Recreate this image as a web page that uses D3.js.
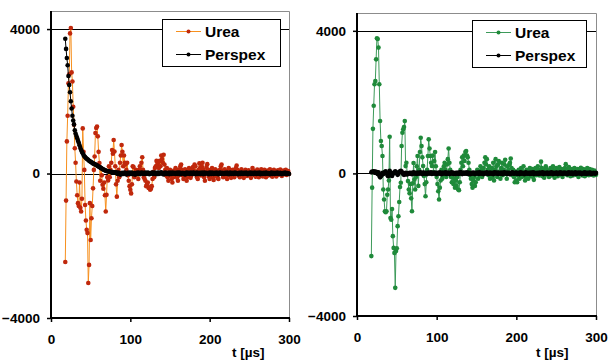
<!DOCTYPE html>
<html>
<head>
<meta charset="utf-8">
<script src="https://cdn.jsdelivr.net/npm/d3@7"></script>
<style>
  body { margin: 0; background: #fff; }
  svg { display: block; }
  text { font-family: "Liberation Sans", Arial, sans-serif; font-weight: bold; fill: #000; }
</style>
</head>
<body>
<svg id="chart" width="613" height="362"></svg>
<script>
// sampling: one point per microsecond, first sample at t = 18 µs
const sampleStart = 18;
const xTicks = [0, 100, 200, 300];
const yTicks = [-4000, 0, 4000];
const seriesNames = ['Urea', 'Perspex'];

// left panel
const ureaLeft = [
  -2450, -750, 890, 1600, 2500, 2750, 3880, 4030, 2800, 2550,
  1850, 1350, 700, 300, -220, -600, -820, -900, -250, -950,
  -1050, -700, 1250, 600, 100, -870, -1300, -1560, -1650, -3030,
  -2530, -820, -1840, -1240, -900, -410, 100, 470, 1120, 1260,
  1300, 1030, 600, 290, -200, 150, -50, -310, -420, -250,
  -600, -1050, -590, -100, -190, 200, -100, 100, 300, 650,
  550, 930, 610, 200, -300, -640, -200, 100, -100, 300,
  500, 790, 600, 200, 500, 300, 250, 100, 300, -50,
  -200, -350, -450, -550, -300, 200, 180, -100, -50, 100,
  50, -20, -150, 100, 200, 100, 300, 450, 100, -100,
  -150, -200, -350, -300, -250, -400, -380, -450, -420, -350,
  -150, 50, -100, 150, 200, 350, 250, 300, 150, 350,
  200, 500, 400, 300, 520, 250, 100, -50, 150, -100,
  -200, -50, 100, 50, -150, -250, -100, 80, -50, 150,
  100, -120, -200, -50, 120, 200, 250, 100, -50, -150,
  50, 120, -80, -200, -100, 60, 150, 0, -120, -50,
  100, 180, 80, 250, 200, 50, -100, -150, 100, 280,
  150, -50, 200, 300, 120, -100, -200, 50, 180, 260,
  100, -80, -150, -50, 100, 150, -100, -180, 50, 120,
  -60, 80, -120, -150, 0, 100, 200, 250, 80, -100,
  -50, 120, 60, -80, -150, 50, 150, 100, -50, -120,
  30, 100, -60, -100, 80, 150, 220, 100, -50, 60,
  -100, -40, 120, 50, -80, -120, 20, 100, 60, -70,
  -30, 90, 40, -60, -120, 30, 150, 80, -40, 60,
  -90, 20, 110, 50, -100, -60, 40, 120, 30, -80,
  60, 100, -20, -100, 30, 80, -50, 70, 120, 20,
  -60, -90, 40, 100, 60, -40, -80, 30, 90, -30,
  50, 110, 20, -70, 40, 80, -20, 60, 100, -40,
  30, 70, -10
];
const perspexLeft = [
  3730, 3450, 3200, 3000, 2700, 2450, 2250, 2000, 1800, 1600,
  1470, 1360, 1200, 1110, 1040, 980, 910, 850, 780, 710,
  650, 600, 560, 510, 480, 455, 430, 410, 395, 375,
  355, 340, 325, 310, 295, 280, 270, 260, 250, 235,
  225, 210, 195, 180, 170, 155, 140, 125, 110, 100,
  90, 80, 72, 66, 60, 55, 50, 46, 42, 40,
  38, 36, 30, 20, 35, 10, -15, 25, 5, -20,
  -30, 10, 20, -10, 15, 30, 0, -25, 10, 20,
  -5, 25, -15, 10, 30, -20, 5, 15, -30, 0,
  20, -10, 25, 10, -20, 15, 30, -5, 20, -15,
  10, 25, -10, 5, 30, 15, -20, 10, -5, 20,
  25, -15, 10, 30, 0, -20, 15, 25, -10, 5,
  20, 35, -5, 10, -25, 15, 30, 5, -15, 20,
  10, -20, 25, 5, -10, 30, 15, -5, 20, -15,
  5, 25, -10, 15, 30, -20, 10, 0, 20, -5,
  15, -25, 10, 30, -5, 20, 5, -15, 25, 10,
  -10, 20, 30, 0, -20, 15, 25, -10, 5, 20,
  -15, 10, 30, 5, -20, 25, 10, -5, 20, 0,
  15, -20, 25, 10, -10, 30, 5, -15, 20, 10,
  -5, 25, 0, -20, 15, 30, 10, -10, 20, 5,
  -15, 20, 10, -5, 25, 0, -20, 15, 30, -10,
  5, 20, -15, 10, 25, -5, 15, 0, -20, 20,
  10, -10, 25, 5, -15, 20, 10, -5, 30, 0,
  -20, 15, 5, 25, -10, 10, 20, -15, 5, 25,
  0, -15, 20, 10, -5, 25, -20, 10, 15, -10,
  20, 5, -15, 25, 10, -5, 15, 0, -20, 10,
  25, -10, 5, 20, -15, 10, 0, 25, -5, 15,
  -10, 20, 5, -20, 15, 10, -5, 25, 0, -15,
  10, 5, -10
];

// right panel
const ureaRight = [
  -2320, -400, 1250, 1900, 2500, 2590, 3200, 3790, 3770, 3530,
  2500, 1470, 910, 770, 490, -450, -730, -1060, -1090, -1060,
  -600, -450, -200, 1030, -1250, -1300, -1000, -1760, -2090, -2230,
  -3210, -2180, -2100, -1480, -1200, -800, -380, -260, 770, 1140,
  1240, 1300, 1470, 205, 300, 0, -215, -450, -560, -300,
  -700, -1060, -280, 290, -170, -450, -100, 200, 490, -350,
  100, 600, 1000, 770, 450, 210, -70, -300, -640, -250,
  100, 490, 955, 700, 490, 300, 210, 500, 30, 350,
  600, 200, -100, -300, -500, -730, -400, -200, 100, -150,
  -50, 200, 300, 100, -100, 250, 400, 700, 300, 100,
  -100, -250, -50, -300, -150, -400, -200, -350, -100, -450,
  -470, -250, 100, 300, 450, 200, 500, 350, 600, 630,
  500, 450, 300, 100, -50, -150, -300, -400, -200, -100,
  -350, -250, 0, 100, -150, 50, -50, 200, 100, -100,
  50, 150, 300, 450, 250, 400, 100, -50, 200, -150,
  50, 150, -100, 300, -200, 100, 400, 200, -100, 250,
  350, 50, -150, 150, 300, -50, 100, 250, 380, 0,
  -150, 200, 100, 250, 300, 420, 150, -50, 100, -100,
  -250, 50, -200, -250, -50, 100, -150, 0, 150, -100,
  50, 200, -50, -200, -100, 100, 50, -150, 80, 150,
  -80, 20, 120, -100, -180, 60, 150, -50, 80, 200,
  100, -60, 50, 330, 150, -80, 100, -120, 60, 200,
  120, -40, 80, -100, 50, 150, -60, 100, 200, -50,
  -120, 80, 150, 30, -80, 100, 180, -40, 60, 120,
  -100, -20, 100, 150, 260, 80, -50, 100, 180, 40,
  -80, 60, 120, -60, 30, 150, 100, -40, 80, 120,
  -100, 50, 90, 160, 40, -60, 120, 80, -80, 20,
  100, 150, 40, -50, 120, 60, -30, 100, 40, -60,
  80, 20, -40
];
const perspexRight = [
  30, 50, 40, 60, 20, 50, 10, 40, -20, 30,
  -60, -110, -80, -30, 20, -20, 10, 40, 60, 10,
  -40, -80, 20, 70, 30, -50, -70, -20, 10, 30,
  60, 30, 0, -40, -10, 40, 60, 70, 50, 20,
  -20, -40, -10, 20, -30, 10, -20, 0, 20, -10,
  15, -25, 10, 30, -5, 20, 5, -15, 25, 10,
  -10, 20, 30, 0, -20, 15, 25, -10, 5, 20,
  -20, 10, 25, -5, 15, 30, -15, 5, 20, -10,
  25, 0, -20, 15, 10, -10, 30, 5, -25, 15,
  20, -5, 10, 30, -15, 0, 25, 10, -20, 15,
  5, 30, -10, 20, 0, -25, 15, 10, -5, 25,
  -15, 20, 35, 5, -20, 10, 25, -10, 15, 0,
  30, -15, 10, 20, -25, 5, 15, -10, 25, 10,
  -20, 15, 0, 25, 10, -15, 30, 5, -10, 20,
  10, -25, 15, 20, -5, 30, 0, -15, 10, 25,
  -10, 5, 20, -20, 15, 30, -5, 10, 25, -15,
  20, 0, -10, 25, 10, -20, 15, 30, -5, 5,
  25, -15, 10, 20, -25, 0, 15, 30, -10, 10,
  -5, 20, 25, -15, 5, 10, -20, 30, 15, -10,
  20, 5, -25, 15, 30, 0, -10, 20, 10, -15,
  25, -5, 10, 30, -20, 15, 5, -10, 20, 0,
  -15, 25, 10, -5, 20, 30, -20, 5, 15, -10,
  10, 25, -15, 0, 20, -5, 30, 10, -20, 15,
  5, -10, 25, 15, -20, 10, 0, 30, -5, 20,
  -15, 10, 25, -5, 15, 0, -20, 20, 30, 5,
  -10, 15, 25, -20, 5, 10, 30, -15, 0, 20,
  15, -5, 25, 10, -20, 5, 20, -10, 30, 0,
  -15, 20, 10, -5, 25, 15, -20, 10, 0, 20,
  5, -10, 15
];

const svg = d3.select('#chart');

function drawPanel(cfg) {
  const x = d3.scaleLinear().domain([0, 300]).range([cfg.left, cfg.right]);
  const y = d3.scaleLinear().domain([-4000, 4500]).range([cfg.bottom, cfg.top]);
  const g = svg.append('g');

  // gridlines at the major ticks (except the axis itself)
  g.selectAll('line.grid')
    .data(yTicks.filter(v => v > -4000))
    .join('line')
      .attr('x1', cfg.left).attr('x2', cfg.right)
      .attr('y1', d => Math.round(y(d)) + 0.5).attr('y2', d => Math.round(y(d)) + 0.5)
      .attr('stroke', '#000').attr('stroke-width', 1);

  // grey frame on top and right
  g.append('path')
    .attr('d', `M${cfg.left},${cfg.top + 0.5}H${cfg.right + 0.5}V${cfg.bottom}`)
    .attr('fill', 'none').attr('stroke', '#8c8c8c').attr('stroke-width', 1);

  const series = [
    { name: seriesNames[0], values: cfg.urea, line: cfg.ureaLine, dot: cfg.ureaDot, r: 2.3 },
    { name: seriesNames[1], values: cfg.perspex, line: '#000', dot: '#000', r: 2.3 }
  ];
  const line = d3.line().x((d, i) => x(sampleStart + i)).y(d => y(d));

  series.forEach(s => {
    g.append('path')
      .attr('d', line(s.values))
      .attr('fill', 'none').attr('stroke', s.line).attr('stroke-width', 1);
    g.append('g').selectAll('circle')
      .data(s.values)
      .join('circle')
        .attr('cx', (d, i) => x(sampleStart + i))
        .attr('cy', d => y(d))
        .attr('r', s.r)
        .attr('fill', s.dot);
  });

  // axes: y on the left, x along the bottom
  const yAxis = g.append('g').attr('transform', `translate(${cfg.left},0)`)
    .call(d3.axisLeft(y).tickValues(yTicks).tickSize(4).tickPadding(7).tickFormat(d3.format('d')));
  const xAxis = g.append('g').attr('transform', `translate(0,${cfg.bottom})`)
    .call(d3.axisBottom(x).tickValues(xTicks).tickSize(4).tickPadding(12).tickFormat(d3.format('d')));
  [yAxis, xAxis].forEach(a => {
    a.select('.domain').remove();
    a.selectAll('.tick line').attr('stroke', '#000').attr('stroke-width', 1.5);
    a.selectAll('.tick text').attr('font-size', 13.5).attr('font-family', '"Liberation Sans", Arial, sans-serif')
      .attr('font-weight', 'bold').attr('fill', '#000');
  });
  g.append('line')
    .attr('x1', cfg.left).attr('x2', cfg.left)
    .attr('y1', cfg.top).attr('y2', cfg.bottom + 1)
    .attr('stroke', '#000').attr('stroke-width', 2);
  g.append('line')
    .attr('x1', cfg.left - 1).attr('x2', cfg.right + 1)
    .attr('y1', cfg.bottom).attr('y2', cfg.bottom)
    .attr('stroke', '#000').attr('stroke-width', 2);

  g.append('text')
    .attr('x', cfg.titleX).attr('y', 357)
    .attr('font-size', 13.5)
    .text('t [µs]');

  // legend
  const lg = g.append('g').attr('transform', `translate(${cfg.legend.x},${cfg.legend.y})`);
  lg.append('rect')
    .attr('x', 0.5).attr('y', 0.5)
    .attr('width', cfg.legend.w).attr('height', 47)
    .attr('fill', '#fff').attr('stroke', '#000').attr('stroke-width', 1);
  series.forEach((s, i) => {
    const cy = 12.5 + i * 23;
    lg.append('line')
      .attr('x1', 14).attr('x2', 39).attr('y1', cy).attr('y2', cy)
      .attr('stroke', s.line).attr('stroke-width', 1);
    lg.append('circle').attr('cx', 26.5).attr('cy', cy).attr('r', 2).attr('fill', s.dot);
    lg.append('text')
      .attr('x', 43).attr('y', cy + 5.5)
      .attr('font-size', 15.5)
      .text(s.name);
  });
}

drawPanel({
  left: 51, right: 289, top: 11, bottom: 318,
  urea: ureaLeft, perspex: perspexLeft,
  ureaLine: '#f7901e', ureaDot: '#c0280c',
  titleX: 232,
  legend: { x: 162, y: 19, w: 118 }
});
drawPanel({
  left: 357, right: 596, top: 13, bottom: 316,
  urea: ureaRight, perspex: perspexRight,
  ureaLine: '#3d9a5a', ureaDot: '#1f8a3a',
  titleX: 536,
  legend: { x: 472, y: 20, w: 114 }
});
</script>
</body>
</html>
